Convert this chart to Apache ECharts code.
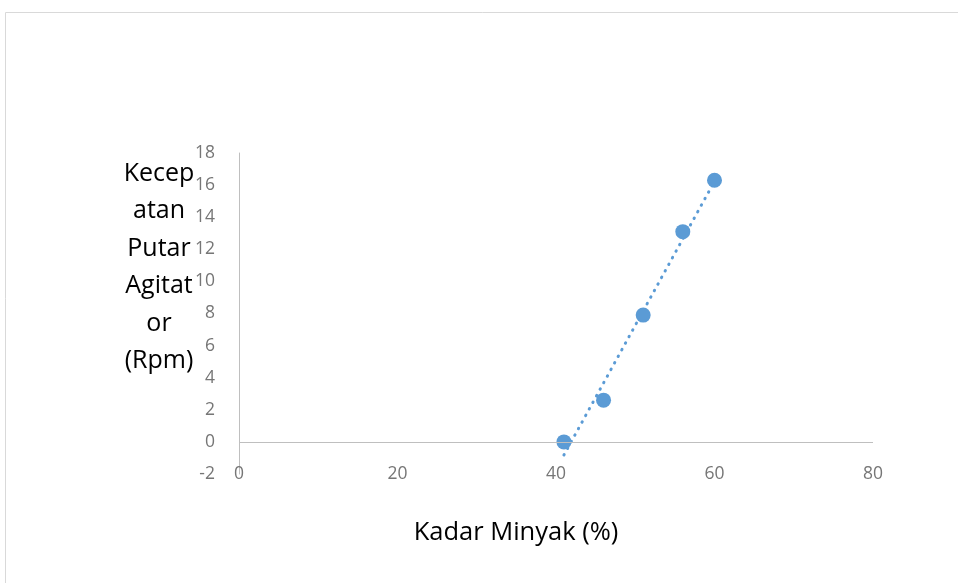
<!DOCTYPE html>
<html>
<head>
<meta charset="utf-8">
<script src="https://cdn.jsdelivr.net/npm/echarts@6/dist/echarts.min.js"></script>
<style>
  html, body { margin: 0; padding: 0; background: #fff; }
  #chart { width: 958px; height: 583px; }
</style>
</head>
<body>
<div id="chart"></div>
<script>
// data
const kadarMinyak = [41, 46, 51, 56, 60];
const kecepatan = [0, 2.6, 7.9, 13.1, 16.3];
const yTicks = [-2, 0, 2, 4, 6, 8, 10, 12, 14, 16, 18];
const xTicks = [0, 20, 40, 60, 80];

// linear trendline (least squares) over the data range
function linearFit(xs, ys) {
  const n = xs.length;
  const mx = xs.reduce((a, b) => a + b, 0) / n;
  const my = ys.reduce((a, b) => a + b, 0) / n;
  let sxy = 0, sxx = 0;
  for (let i = 0; i < n; i++) {
    sxy += (xs[i] - mx) * (ys[i] - my);
    sxx += (xs[i] - mx) * (xs[i] - mx);
  }
  const slope = sxy / sxx;
  return { slope: slope, intercept: my - slope * mx };
}

const fit = linearFit(kadarMinyak, kecepatan);
const xMin = Math.min(...kadarMinyak);
const xMax = Math.max(...kadarMinyak);
const trend = [
  [xMin, fit.slope * xMin + fit.intercept],
  [xMax, fit.slope * xMax + fit.intercept]
];

const chart = echarts.init(document.getElementById('chart'));

const font = 'Open Sans, Noto Sans, sans-serif';

const option = {
  animation: false,
  graphic: [
    {
      type: 'rect',
      shape: { x: 5.5, y: 12.5, width: 1000, height: 1000 },
      style: { fill: 'none', stroke: '#d9d9d9', lineWidth: 1 },
      silent: true
    },
    {
      type: 'text',
      x: 159,
      y: 155,
      style: {
        text: 'Kecep\natan\nPutar\nAgitat\nor\n(Rpm)',
        fill: '#000',
        font: '25px ' + font,
        align: 'center',
        verticalAlign: 'top',
        lineHeight: 37.5
      }
    },
    {
      type: 'text',
      x: 516,
      y: 533,
      style: {
        text: 'Kadar Minyak (%)',
        fill: '#000',
        font: '25.5px ' + font,
        align: 'center',
        verticalAlign: 'middle'
      }
    }
  ],
  grid: { left: 239, right: 85, top: 153, bottom: 109 },
  xAxis: {
    type: 'value',
    min: xTicks[0],
    max: xTicks[xTicks.length - 1],
    interval: 20,
    axisLine: { show: false },
    axisTick: { show: false },
    splitLine: { show: false },
    axisLabel: {
      color: '#767676',
      fontSize: 17.5,
      fontFamily: font,
      verticalAlign: 'middle',
      margin: 0
    }
  },
  yAxis: {
    type: 'value',
    min: yTicks[0],
    max: yTicks[yTicks.length - 1],
    interval: 2,
    axisLine: { show: true, onZero: false, lineStyle: { color: '#bfbfbf', width: 1 } },
    axisTick: { show: false },
    splitLine: { show: false },
    axisLabel: {
      color: '#767676',
      fontSize: 17.5,
      fontFamily: font,
      margin: 24
    }
  },
  series: [
    {
      name: 'trend',
      type: 'line',
      data: trend,
      symbol: 'none',
      lineStyle: { color: '#5b9bd5', width: 3, type: [0.5, 7], cap: 'round' },
      silent: true,
      markLine: {
        silent: true,
        symbol: 'none',
        label: { show: false },
        lineStyle: { color: '#bfbfbf', width: 1, type: 'solid' },
        data: [{ yAxis: 0 }]
      },
      z: 2
    },
    {
      name: 'data',
      type: 'scatter',
      data: kadarMinyak.map((x, i) => [x, kecepatan[i]]),
      symbolSize: 15,
      itemStyle: { color: '#5b9bd5', opacity: 1 },
      z: 3
    }
  ]
};

option && chart.setOption(option);
</script>
</body>
</html>
